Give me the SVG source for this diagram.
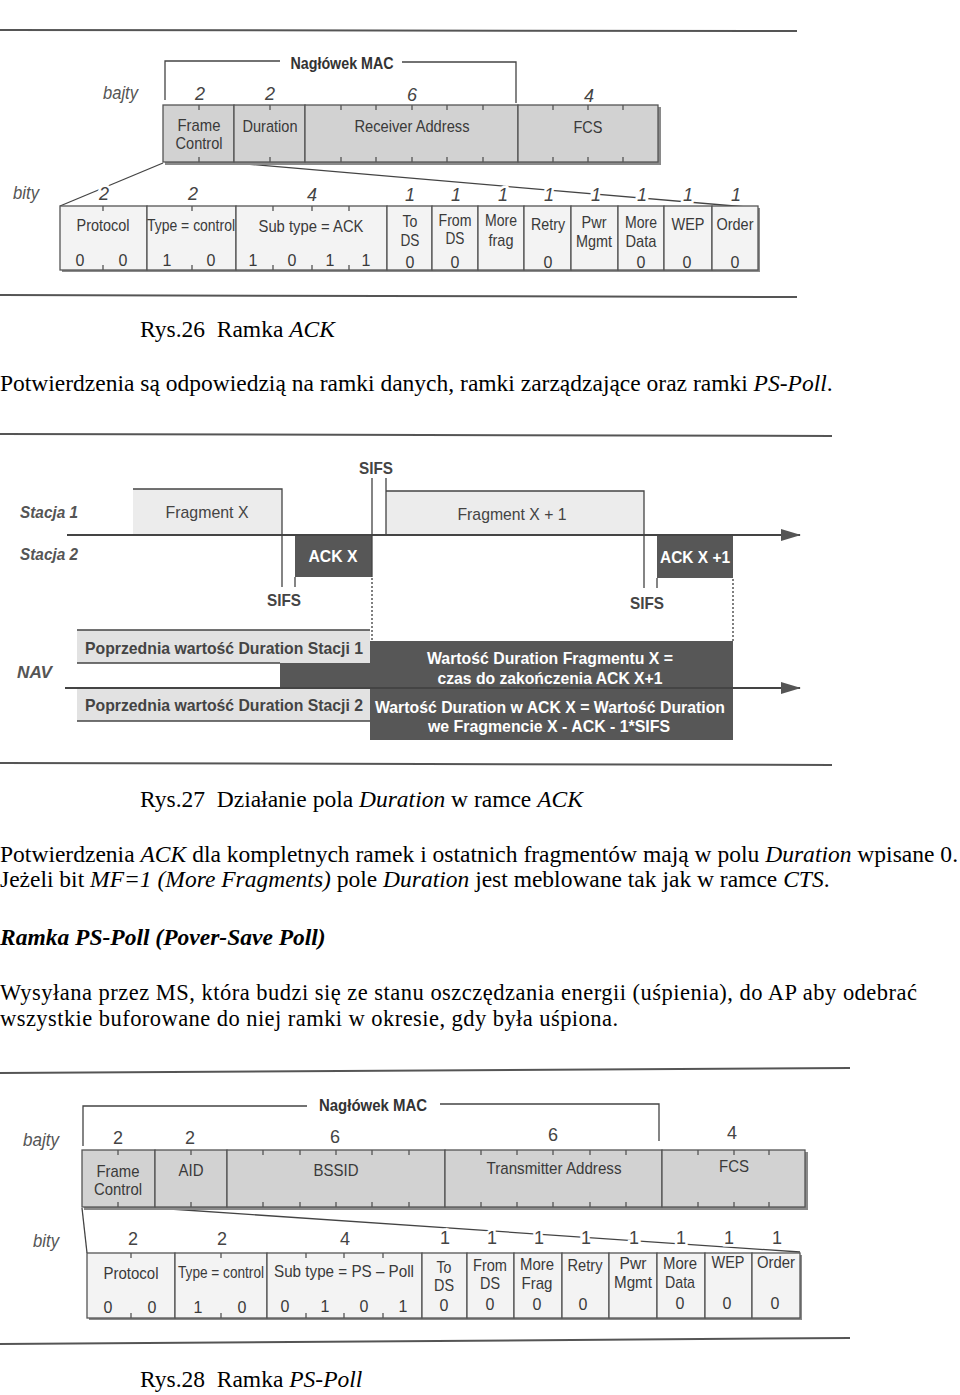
<svg xmlns="http://www.w3.org/2000/svg" width="960" height="1395" viewBox="0 0 960 1395">
<style>
.rule{stroke:#555;stroke-width:2}
.ln{stroke:#444;stroke-width:1.3;fill:none}
.tk{stroke:#555;stroke-width:1.3;fill:none}
.ub{fill:#d2d2d2;stroke:#555;stroke-width:1.3}
.lb{fill:#f3f3f3;stroke:#555;stroke-width:1.3}
.sh{fill:#8a8a8a}
.f{font-family:"Liberation Sans",Arial,sans-serif;font-size:17px;fill:#3a3a3a;text-anchor:middle}
.s{font-size:16px}
.hd{font-family:"Liberation Sans",Arial,sans-serif;font-size:17px;font-weight:bold;fill:#333;text-anchor:middle}
.it{font-family:"Liberation Sans",Arial,sans-serif;font-size:19px;font-style:italic;fill:#555}
.num{font-family:"Liberation Sans",Arial,sans-serif;font-size:18px;fill:#444;text-anchor:middle;stroke:#fff;stroke-width:5;paint-order:stroke}
.ital{font-style:italic}
.tl{font-family:"Liberation Sans",Arial,sans-serif;font-size:17px;font-weight:bold;font-style:italic;fill:#555}
.frag{fill:#ececec}
.dk{fill:#575757}
.wt{font-family:"Liberation Sans",Arial,sans-serif;font-size:17px;font-weight:bold;fill:#fff;text-anchor:middle}
.nb{font-family:"Liberation Sans",Arial,sans-serif;font-size:17px;font-weight:bold;fill:#444}
.nav{fill:#e2e2e2}
.dot{stroke:#555;stroke-width:1.5;stroke-dasharray:2 2;fill:none}
.body{font-family:"Liberation Serif","Times New Roman",serif;font-size:23.5px;fill:#000}
.i{font-style:italic}
</style>
<defs>
<marker id="arr" viewBox="0 0 20 12" refX="19" refY="6" markerWidth="20" markerHeight="12" markerUnits="userSpaceOnUse" orient="auto"><path d="M0,0L20,6L0,12z" fill="#555"/></marker>
</defs>
<rect width="960" height="1395" fill="#fff"/>

<!-- ================= FIGURE 1 ================= -->
<g id="fig1">
<line class="rule" x1="0" y1="30" x2="797" y2="31"/>
<line class="rule" x1="0" y1="295" x2="797" y2="297"/>

<g id="f1-connectors">
<path class="ln" d="M165,100V61H280M402,62H516V103"/>
<line class="ln" x1="163" y1="163" x2="60" y2="206"/>
<line class="ln" x1="234" y1="163" x2="758" y2="208"/>
</g>

<text class="hd" x="342" y="69" textLength="103" lengthAdjust="spacingAndGlyphs">Nagłówek MAC</text>
<text class="it" x="103" y="99" textLength="35" lengthAdjust="spacingAndGlyphs">bajty</text>
<text class="num ital" x="200" y="100">2</text>
<text class="num ital" x="270" y="100">2</text>
<text class="num ital" x="412" y="101">6</text>
<text class="num ital" x="589" y="102">4</text>

<rect class="sh" x="165" y="107" width="496" height="58"/>
<g id="f1-fc"><rect class="ub" x="163" y="105" width="71" height="57"/><path class="tk" d="M199,105v5M199,157v5"/><text class="f" x="199" y="131" textLength="43" lengthAdjust="spacingAndGlyphs">Frame</text><text class="f" x="199" y="149" textLength="47" lengthAdjust="spacingAndGlyphs">Control</text></g>
<g id="f1-dur"><rect class="ub" x="234" y="105" width="71" height="57"/><path class="tk" d="M270,105v5M270,157v5"/><text class="f" x="270" y="132" textLength="55" lengthAdjust="spacingAndGlyphs">Duration</text></g>
<g id="f1-ra"><rect class="ub" x="305" y="105" width="213" height="57"/><path class="tk" d="M341,105v5M341,157v5M376,105v5M376,157v5M412,105v5M412,157v5M447,105v5M447,157v5M483,105v5M483,157v5"/><text class="f" x="412" y="132" textLength="115" lengthAdjust="spacingAndGlyphs">Receiver Address</text></g>
<g id="f1-fcs"><rect class="ub" x="518" y="105" width="140" height="57"/><path class="tk" d="M553,105v5M553,157v5M588,105v5M588,157v5M623,105v5M623,157v5"/><text class="f" x="588" y="133" textLength="29" lengthAdjust="spacingAndGlyphs">FCS</text></g>

<text class="it" x="13" y="199" textLength="26" lengthAdjust="spacingAndGlyphs">bity</text>
<text class="num ital" x="104" y="200">2</text>
<text class="num ital" x="193" y="200">2</text>
<text class="num ital" x="312" y="201">4</text>
<text class="num ital" x="410" y="201">1</text>
<text class="num ital" x="456" y="201">1</text>
<text class="num ital" x="503" y="201">1</text>
<text class="num ital" x="549" y="201">1</text>
<text class="num ital" x="596" y="201">1</text>
<text class="num ital" x="642" y="201">1</text>
<text class="num ital" x="688" y="201">1</text>
<text class="num ital" x="736" y="201">1</text>

<rect class="sh" x="62" y="208" width="698" height="64"/>
<g id="f1-prot"><rect class="lb" x="60" y="206" width="87" height="64"/><path class="tk" d="M103,206v5M103,265v5"/><text class="f" x="103" y="231" textLength="53" lengthAdjust="spacingAndGlyphs">Protocol</text><text class="f s" x="80" y="266">0</text><text class="f s" x="123" y="266">0</text></g>
<g id="f1-type"><rect class="lb" x="147" y="206" width="89" height="64"/><path class="tk" d="M192,206v5M192,265v5"/><text class="f" x="191" y="231" textLength="88" lengthAdjust="spacingAndGlyphs">Type = control</text><text class="f s" x="167" y="266">1</text><text class="f s" x="211" y="266">0</text></g>
<g id="f1-sub"><rect class="lb" x="236" y="206" width="151" height="64"/><path class="tk" d="M273,206v5M273,265v5M312,206v5M312,265v5M349,206v5M349,265v5"/><text class="f" x="311" y="232" textLength="105" lengthAdjust="spacingAndGlyphs">Sub type = ACK</text><text class="f s" x="253" y="266">1</text><text class="f s" x="292" y="266">0</text><text class="f s" x="330" y="266">1</text><text class="f s" x="366" y="266">1</text></g>
<g id="f1-tods"><rect class="lb" x="387" y="206" width="45" height="64"/><text class="f" x="410" y="227" textLength="15" lengthAdjust="spacingAndGlyphs">To</text><text class="f" x="410" y="246" textLength="19" lengthAdjust="spacingAndGlyphs">DS</text><text class="f s" x="410" y="268">0</text></g>
<g id="f1-fromds"><rect class="lb" x="432" y="206" width="46" height="64"/><text class="f" x="455" y="226" textLength="33" lengthAdjust="spacingAndGlyphs">From</text><text class="f" x="455" y="244" textLength="19" lengthAdjust="spacingAndGlyphs">DS</text><text class="f s" x="455" y="268">0</text></g>
<g id="f1-morefrag"><rect class="lb" x="478" y="206" width="46" height="64"/><text class="f" x="501" y="226" textLength="32" lengthAdjust="spacingAndGlyphs">More</text><text class="f" x="501" y="246" textLength="25" lengthAdjust="spacingAndGlyphs">frag</text></g>
<g id="f1-retry"><rect class="lb" x="524" y="206" width="47" height="64"/><text class="f" x="548" y="230" textLength="34" lengthAdjust="spacingAndGlyphs">Retry</text><text class="f s" x="548" y="268">0</text></g>
<g id="f1-pwr"><rect class="lb" x="571" y="206" width="47" height="64"/><text class="f" x="594" y="228" textLength="25" lengthAdjust="spacingAndGlyphs">Pwr</text><text class="f" x="594" y="247" textLength="36" lengthAdjust="spacingAndGlyphs">Mgmt</text></g>
<g id="f1-moredata"><rect class="lb" x="618" y="206" width="46" height="64"/><text class="f" x="641" y="228" textLength="32" lengthAdjust="spacingAndGlyphs">More</text><text class="f" x="641" y="247" textLength="31" lengthAdjust="spacingAndGlyphs">Data</text><text class="f s" x="641" y="268">0</text></g>
<g id="f1-wep"><rect class="lb" x="664" y="206" width="48" height="64"/><text class="f" x="688" y="230" textLength="33" lengthAdjust="spacingAndGlyphs">WEP</text><text class="f s" x="687" y="268">0</text></g>
<g id="f1-order"><rect class="lb" x="712" y="206" width="46" height="64"/><text class="f" x="735" y="230" textLength="37" lengthAdjust="spacingAndGlyphs">Order</text><text class="f s" x="735" y="268">0</text></g>
</g>

<text class="body" x="140" y="337">Rys.26 &#160;Ramka <tspan class="i">ACK</tspan></text>
<text class="body" x="0" y="391">Potwierdzenia są odpowiedzią na ramki danych, ramki zarządzające oraz ramki <tspan class="i">PS-Poll</tspan>.</text>

<!-- ================= FIGURE 2 ================= -->
<g id="fig2">
<line class="rule" x1="0" y1="434" x2="832" y2="436"/>
<line class="rule" x1="0" y1="763" x2="832" y2="765"/>

<text class="tl" x="20" y="518" textLength="58" lengthAdjust="spacingAndGlyphs">Stacja 1</text>
<text class="tl" x="20" y="560" textLength="58" lengthAdjust="spacingAndGlyphs">Stacja 2</text>
<text class="tl" x="17" y="678" textLength="35" lengthAdjust="spacingAndGlyphs">NAV</text>

<g id="f2-fragx"><rect class="frag" x="133" y="489" width="149" height="46"/><text class="f" x="207" y="518" style="fill:#444" textLength="83" lengthAdjust="spacingAndGlyphs">Fragment X</text></g>
<g id="f2-fragx1"><rect class="frag" x="386" y="491" width="258" height="44"/><text class="f" x="512" y="520" style="fill:#444" textLength="109" lengthAdjust="spacingAndGlyphs">Fragment X + 1</text></g>
<g id="f2-ackx"><rect class="dk" x="295" y="535" width="77" height="42"/><text class="wt" x="333" y="562" textLength="49" lengthAdjust="spacingAndGlyphs">ACK X</text></g>
<g id="f2-ackx1"><rect class="dk" x="657" y="535" width="76" height="43"/><text class="wt" x="695" y="563" textLength="70" lengthAdjust="spacingAndGlyphs">ACK X +1</text></g>

<g id="f2-sifs">
<text class="hd" x="376" y="474" style="fill:#444" textLength="34" lengthAdjust="spacingAndGlyphs">SIFS</text>
<text class="hd" x="284" y="606" style="fill:#444" textLength="34" lengthAdjust="spacingAndGlyphs">SIFS</text>
<text class="hd" x="647" y="609" style="fill:#444" textLength="34" lengthAdjust="spacingAndGlyphs">SIFS</text>
</g>

<g id="f2-nav1">
<rect class="dk" x="280" y="641" width="453" height="47"/>
<rect class="nav" x="77" y="630" width="293" height="33"/>
<path class="ln" d="M77,630H370M77,663H280"/>
<text class="nb" x="85" y="654" textLength="278" lengthAdjust="spacingAndGlyphs">Poprzednia wartość Duration Stacji 1</text>
<text class="wt" x="550" y="664" textLength="246" lengthAdjust="spacingAndGlyphs">Wartość Duration Fragmentu X =</text>
<text class="wt" x="550" y="684" textLength="225" lengthAdjust="spacingAndGlyphs">czas do zakończenia ACK X+1</text>
</g>
<g id="f2-nav2">
<rect class="nav" x="77" y="689" width="293" height="32"/>
<path class="ln" d="M77,721H370"/>
<rect class="dk" x="370" y="689" width="363" height="51"/>
<text class="nb" x="85" y="711" textLength="278" lengthAdjust="spacingAndGlyphs">Poprzednia wartość Duration Stacji 2</text>
<text class="wt" x="550" y="713" textLength="350" lengthAdjust="spacingAndGlyphs">Wartość Duration w ACK X = Wartość Duration</text>
<text class="wt" x="549" y="732" textLength="242" lengthAdjust="spacingAndGlyphs">we Fragmencie X - ACK - 1*SIFS</text>
</g>

<g id="f2-connectors">
<line class="ln" x1="67" y1="535" x2="800" y2="535" marker-end="url(#arr)" style="stroke-width:2"/>
<line class="ln" x1="65" y1="688" x2="800" y2="688" marker-end="url(#arr)" style="stroke-width:2"/>
<path class="ln" d="M133,489H282V587"/>
<path class="ln" d="M386,535V478M372,478V577M295,577V587"/>
<path class="ln" d="M386,491H644V588M657,578V588"/>
<line class="dot" x1="372" y1="578" x2="372" y2="641"/>
<line class="dot" x1="733" y1="579" x2="733" y2="641"/>
</g>
</g>

<text class="body" x="140" y="807">Rys.27 &#160;Działanie pola <tspan class="i">Duration</tspan> w ramce <tspan class="i">ACK</tspan></text>
<text class="body" x="0" y="862" textLength="958" lengthAdjust="spacing">Potwierdzenia <tspan class="i">ACK</tspan> dla kompletnych ramek i ostatnich fragmentów mają w polu <tspan class="i">Duration</tspan> wpisane 0.</text>
<text class="body" x="0" y="887">Jeżeli bit <tspan class="i">MF=1 (More Fragments)</tspan> pole <tspan class="i">Duration</tspan> jest meblowane tak jak w ramce <tspan class="i">CTS</tspan>.</text>
<text class="body" x="0" y="945" style="font-weight:bold;font-style:italic">Ramka PS-Poll (Pover-Save Poll)</text>
<text class="body" x="0" y="1000" style="font-size:22.5px" textLength="917" lengthAdjust="spacing">Wysyłana przez MS, która budzi się ze stanu oszczędzania energii (uśpienia), do AP aby odebrać</text>
<text class="body" x="0" y="1026" style="font-size:22.5px" textLength="618" lengthAdjust="spacing">wszystkie buforowane do niej ramki w okresie, gdy była uśpiona.</text>

<!-- ================= FIGURE 3 ================= -->
<g id="fig3">
<line class="rule" x1="0" y1="1073" x2="850" y2="1068"/>
<line class="rule" x1="0" y1="1344" x2="850" y2="1338"/>

<g id="f3-connectors">
<path class="ln" d="M83,1146V1106H307M440,1104H659V1141"/>
<line class="ln" x1="82" y1="1208" x2="87" y2="1253"/>
<line class="ln" x1="155" y1="1208" x2="800" y2="1252"/>
</g>

<text class="hd" x="373" y="1111" textLength="108" lengthAdjust="spacingAndGlyphs">Nagłówek MAC</text>
<text class="it" x="23" y="1146" textLength="36" lengthAdjust="spacingAndGlyphs">bajty</text>
<text class="num" x="118" y="1144">2</text>
<text class="num" x="190" y="1144">2</text>
<text class="num" x="335" y="1143">6</text>
<text class="num" x="553" y="1141">6</text>
<text class="num" x="732" y="1139">4</text>

<rect class="sh" x="84" y="1152" width="724" height="58"/>
<g id="f3-fc"><rect class="ub" x="82" y="1150" width="73" height="57"/><path class="tk" d="M118,1150v5M118,1202v5"/><text class="f" x="118" y="1177" textLength="43" lengthAdjust="spacingAndGlyphs">Frame</text><text class="f" x="118" y="1195" textLength="48" lengthAdjust="spacingAndGlyphs">Control</text></g>
<g id="f3-aid"><rect class="ub" x="155" y="1150" width="72" height="57"/><path class="tk" d="M191,1150v5M191,1202v5"/><text class="f" x="191" y="1176" textLength="25" lengthAdjust="spacingAndGlyphs">AID</text></g>
<g id="f3-bssid"><rect class="ub" x="227" y="1150" width="218" height="57"/><path class="tk" d="M263,1150v5M263,1202v5M300,1150v5M300,1202v5M336,1150v5M336,1202v5M372,1150v5M372,1202v5M409,1150v5M409,1202v5"/><text class="f" x="336" y="1176" textLength="45" lengthAdjust="spacingAndGlyphs">BSSID</text></g>
<g id="f3-ta"><rect class="ub" x="445" y="1150" width="217" height="57"/><path class="tk" d="M481,1150v5M481,1202v5M517,1150v5M517,1202v5M553,1150v5M553,1202v5M590,1150v5M590,1202v5M626,1150v5M626,1202v5"/><text class="f" x="554" y="1174" textLength="135" lengthAdjust="spacingAndGlyphs">Transmitter Address</text></g>
<g id="f3-fcs"><rect class="ub" x="662" y="1150" width="143" height="57"/><path class="tk" d="M698,1150v5M698,1202v5M734,1150v5M734,1202v5M769,1150v5M769,1202v5"/><text class="f" x="734" y="1172" textLength="30" lengthAdjust="spacingAndGlyphs">FCS</text></g>

<text class="it" x="33" y="1247" textLength="26" lengthAdjust="spacingAndGlyphs">bity</text>
<text class="num" x="133" y="1245">2</text>
<text class="num" x="222" y="1245">2</text>
<text class="num" x="345" y="1245">4</text>
<text class="num" x="445" y="1244">1</text>
<text class="num" x="492" y="1244">1</text>
<text class="num" x="539" y="1244">1</text>
<text class="num" x="586" y="1244">1</text>
<text class="num" x="634" y="1244">1</text>
<text class="num" x="681" y="1244">1</text>
<text class="num" x="729" y="1244">1</text>
<text class="num" x="777" y="1244">1</text>

<rect class="sh" x="89" y="1255" width="713" height="65"/>
<g id="f3-prot"><rect class="lb" x="87" y="1253" width="88" height="65"/><path class="tk" d="M131,1253v5M131,1313v5"/><text class="f" x="131" y="1279" textLength="55" lengthAdjust="spacingAndGlyphs">Protocol</text><text class="f s" x="108" y="1313">0</text><text class="f s" x="152" y="1313">0</text></g>
<g id="f3-type"><rect class="lb" x="175" y="1253" width="92" height="65"/><path class="tk" d="M221,1253v5M221,1313v5"/><text class="f" x="221" y="1278" textLength="86" lengthAdjust="spacingAndGlyphs">Type = control</text><text class="f s" x="198" y="1313">1</text><text class="f s" x="242" y="1313">0</text></g>
<g id="f3-sub"><rect class="lb" x="267" y="1253" width="155" height="65"/><path class="tk" d="M306,1253v5M306,1313v5M344,1253v5M344,1313v5M383,1253v5M383,1313v5"/><text class="f" x="344" y="1277" textLength="140" lengthAdjust="spacingAndGlyphs">Sub type = PS – Poll</text><text class="f s" x="285" y="1312">0</text><text class="f s" x="325" y="1312">1</text><text class="f s" x="364" y="1312">0</text><text class="f s" x="403" y="1312">1</text></g>
<g id="f3-tods"><rect class="lb" x="422" y="1253" width="45" height="65"/><text class="f" x="444" y="1273" textLength="15" lengthAdjust="spacingAndGlyphs">To</text><text class="f" x="444" y="1291" textLength="20" lengthAdjust="spacingAndGlyphs">DS</text><text class="f s" x="444" y="1311">0</text></g>
<g id="f3-fromds"><rect class="lb" x="467" y="1253" width="47" height="65"/><text class="f" x="490" y="1271" textLength="34" lengthAdjust="spacingAndGlyphs">From</text><text class="f" x="490" y="1289" textLength="20" lengthAdjust="spacingAndGlyphs">DS</text><text class="f s" x="490" y="1310">0</text></g>
<g id="f3-morefrag"><rect class="lb" x="514" y="1253" width="48" height="65"/><text class="f" x="537" y="1270" textLength="34" lengthAdjust="spacingAndGlyphs">More</text><text class="f" x="537" y="1289" textLength="31" lengthAdjust="spacingAndGlyphs">Frag</text><text class="f s" x="537" y="1310">0</text></g>
<g id="f3-retry"><rect class="lb" x="562" y="1253" width="47" height="65"/><text class="f" x="585" y="1271" textLength="35" lengthAdjust="spacingAndGlyphs">Retry</text><text class="f s" x="583" y="1310">0</text></g>
<g id="f3-pwr"><rect class="lb" x="609" y="1253" width="48" height="65"/><text class="f" x="633" y="1269" textLength="27" lengthAdjust="spacingAndGlyphs">Pwr</text><text class="f" x="633" y="1288" textLength="38" lengthAdjust="spacingAndGlyphs">Mgmt</text></g>
<g id="f3-moredata"><rect class="lb" x="657" y="1253" width="48" height="65"/><text class="f" x="680" y="1269" textLength="34" lengthAdjust="spacingAndGlyphs">More</text><text class="f" x="680" y="1288" textLength="30" lengthAdjust="spacingAndGlyphs">Data</text><text class="f s" x="680" y="1309">0</text></g>
<g id="f3-wep"><rect class="lb" x="705" y="1253" width="47" height="65"/><text class="f" x="728" y="1268" textLength="33" lengthAdjust="spacingAndGlyphs">WEP</text><text class="f s" x="727" y="1309">0</text></g>
<g id="f3-order"><rect class="lb" x="752" y="1253" width="48" height="65"/><text class="f" x="776" y="1268" textLength="38" lengthAdjust="spacingAndGlyphs">Order</text><text class="f s" x="775" y="1309">0</text></g>
</g>

<text class="body" x="140" y="1387">Rys.28 &#160;Ramka <tspan class="i">PS-Poll</tspan></text>
</svg>
